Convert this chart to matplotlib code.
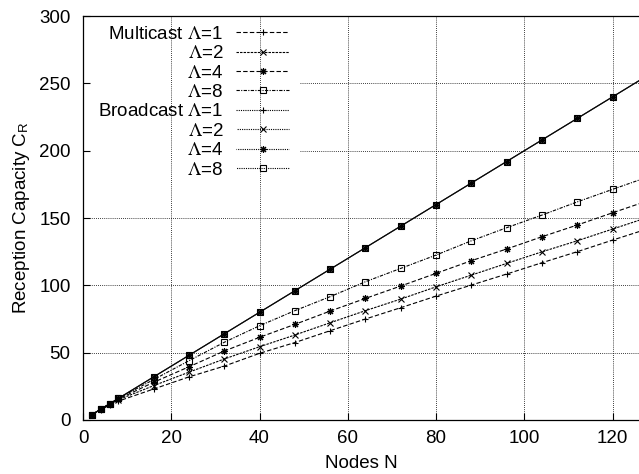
import numpy as np
import matplotlib.pyplot as plt

# ------------------------------------------
# data
# ------------------------------------------
nodes = [2, 4, 6, 8, 16, 24, 32, 40, 48, 56, 64, 72, 80, 88, 96, 104, 112, 120, 128]

multicast_l1 = [4, 7.6, 11, 14, 23, 32, 40, 49.5, 57.5, 66.3, 75, 83.4, 92, 100.2, 108.4, 116.8, 125, 133.6, 142]
multicast_l2 = [4, 7.8, 11.5, 15, 25.5, 35.5, 45.3, 54.4, 63.1, 72.2, 81.2, 89.8, 98.9, 107.6, 116.3, 124.9, 133.1, 141.8, 150.5]
multicast_l4 = [4, 8, 11.8, 15.5, 28, 39.5, 51.2, 61.4, 71, 80.9, 90.3, 99.5, 108.9, 118.3, 127, 136.1, 144.8, 153.9, 162.8]
multicast_l8 = [4, 8, 12, 16, 30, 44, 57.7, 70, 81.2, 91.6, 102.7, 112.6, 122.5, 133.1, 142.8, 152.2, 162, 171.3, 180.5]

broadcast_l1 = [4, 8, 12, 16, 32, 48, 64, 80, 96, 112, 128, 144, 160, 176, 192, 208, 224, 240, 256]
broadcast_l2 = [4, 8, 12, 16, 32, 48, 64, 80, 96, 112, 128, 144, 160, 176, 192, 208, 224, 240, 256]
broadcast_l4 = [4, 8, 12, 16, 32, 48, 64, 80, 96, 112, 128, 144, 160, 176, 192, 208, 224, 240, 256]
broadcast_l8 = [4, 8, 12, 16, 32, 48, 64, 80, 96, 112, 128, 144, 160, 176, 192, 208, 224, 240, 256]

series_labels = ["Multicast $\\Lambda$=1", "$\\Lambda$=2", "$\\Lambda$=4", "$\\Lambda$=8",
                 "Broadcast $\\Lambda$=1", "$\\Lambda$=2", "$\\Lambda$=4", "$\\Lambda$=8"]

x_ticks = [0, 20, 40, 60, 80, 100, 120]
y_ticks = [0, 50, 100, 150, 200, 250, 300]

# gnuplot-like point types
ASTERISK = (8, 2, 0)
markers = ['+', 'x', ASTERISK, 's']
multi_dash = [(0, (4, 2)), (0, (2.2, 1.0)), (0, (4, 2)), (0, (3, 1.2, 1, 1.2))]
broad_dash = [(0, (1, 1)), (1, (1, 1)), (0.5, (1, 1)), (1.5, (1, 1))]

plt.rcParams['font.family'] = ['Liberation Sans', 'DejaVu Sans']
plt.rcParams['mathtext.fontset'] = 'stix'
FS = 13.5

fig = plt.figure(figsize=(6.39, 4.74), dpi=100)
ax = fig.add_axes([0.130, 0.114, 0.870, 0.852])

multi = [multicast_l1, multicast_l2, multicast_l4, multicast_l8]
broad = [broadcast_l1, broadcast_l2, broadcast_l4, broadcast_l8]

for i, vals in enumerate(multi):
    ax.plot(nodes, vals, color='black', linewidth=0.8, linestyle=multi_dash[i],
            marker=markers[i], markersize=5, markeredgewidth=0.8,
            markerfacecolor='none', label=series_labels[i])
for i, vals in enumerate(broad):
    ax.plot(nodes, vals, color='black', linewidth=0.8, linestyle=broad_dash[i],
            marker=markers[i], markersize=5, markeredgewidth=0.8,
            markerfacecolor='none', label=series_labels[4 + i])

ax.set_xlim(0, 126)
ax.set_ylim(0, 300)
ax.set_xticks(x_ticks)
ax.set_yticks(y_ticks)
ax.tick_params(direction='in', length=5, width=0.8, labelsize=FS)
ax.tick_params(axis='y', pad=9)
ax.tick_params(axis='x', pad=7)
ax.spines['right'].set_visible(False)
for s in ['left', 'bottom', 'top']:
    ax.spines[s].set_linewidth(0.9)

# grid: vertical lines all the way, horizontal ones stop at the key
for xv in x_ticks[1:]:
    ax.axvline(xv, color='black', linestyle=(0, (1, 1.5)), linewidth=0.6, zorder=0)
for yv in y_ticks[1:-1]:
    start = 0.39 if yv > 180 else 0.0
    ax.axhline(yv, xmin=start, color='black', linestyle=(0, (1, 1.5)), linewidth=0.6, zorder=0)

ax.set_xlabel('Nodes N', fontsize=FS, labelpad=6)
ax.set_ylabel('Reception Capacity C$_\\mathregular{R}$', fontsize=FS, labelpad=5)

ax.legend(loc='upper right', bbox_to_anchor=(0.371, 0.976), frameon=False,
          markerfirst=False, numpoints=1, fontsize=FS, handlelength=2.83,
          handletextpad=0.7, labelspacing=0.12, borderaxespad=0, borderpad=0)

plt.savefig('out.png', dpi=100)
